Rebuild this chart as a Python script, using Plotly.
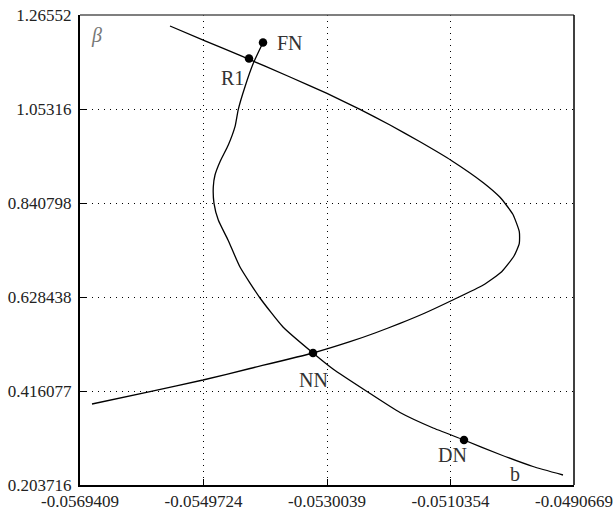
import plotly.graph_objects as go

# Branch 1 (fold-shaped curve)
branch1_x = [-0.0555064, -0.0549485, -0.0543906, -0.0535937, -0.0530039, -0.0524779,
             -0.0519997, -0.0515215, -0.0510163, -0.0505126, -0.0502464, -0.0500440,
             -0.0499388, -0.0499388, -0.0500232, -0.0502193, -0.0505126, -0.0510163,
             -0.0514418, -0.0518403, -0.0522388, -0.0526373, -0.0532270, -0.0542312,
             -0.0549804, -0.0558252, -0.0567496]
branch1_y = [1.24067, 1.20723, 1.17425, 1.12545, 1.08840, 1.05226,
             1.01701, 0.97906, 0.93636, 0.88666, 0.85368, 0.81595,
             0.77596, 0.74975, 0.72106, 0.68559, 0.65555, 0.62053,
             0.59229, 0.56880, 0.54711, 0.52745, 0.50192, 0.46691,
             0.44093, 0.41485, 0.38671]

# Branch 2 (from FN down to b)
branch2_x = [-0.0540240, -0.0541786, -0.0543109, -0.0544177, -0.0544703, -0.0545771,
             -0.0547094, -0.0547891, -0.0548162, -0.0548050, -0.0547365, -0.0545819,
             -0.0543906, -0.0540718, -0.0537052, -0.0532270, -0.0529083, -0.0523663,
             -0.0518403, -0.0513303, -0.0508202, -0.0502464, -0.0497204, -0.0492422]
branch2_y = [1.20339, 1.15640, 1.10354, 1.05248, 1.01317, 0.97183,
             0.93410, 0.90405, 0.87762, 0.84012, 0.80239, 0.75721,
             0.69621, 0.62618, 0.56066, 0.50192, 0.46578, 0.41495,
             0.36750, 0.33362, 0.30538, 0.27262, 0.24551, 0.22631]

# Special points
point_names = ["FN", "R1", "NN", "DN"]
point_x = [-0.0540240, -0.0542472, -0.0532270, -0.0508202]
point_y = [1.20339, 1.16700, 0.50192, 0.30538]

# Ticks
x_ticks = [-0.0569409, -0.0549724, -0.0530039, -0.0510354, -0.0490669]
x_tick_labels = ["-0.0569409", "-0.0549724", "-0.0530039", "-0.0510354", "-0.0490669"]
y_ticks = [0.203716, 0.416077, 0.628438, 0.840798, 1.05316, 1.26552]
y_tick_labels = ["0.203716", "0.416077", "0.628438", "0.840798", "1.05316", "1.26552"]

FONT = "Liberation Serif"

fig = go.Figure()
fig.add_trace(go.Scatter(x=branch1_x, y=branch1_y, mode="lines",
                         line=dict(color="black", width=1.3, shape="spline", smoothing=0.5),
                         showlegend=False))
fig.add_trace(go.Scatter(x=branch2_x, y=branch2_y, mode="lines",
                         line=dict(color="black", width=1.3, shape="spline", smoothing=0.5),
                         showlegend=False))
fig.add_trace(go.Scatter(x=point_x, y=point_y, mode="markers",
                         marker=dict(color="black", size=8.5), showlegend=False))

# labels
label_offsets = {"FN": (27, 0), "R1": (-17, 19), "NN": (0, 27), "DN": (-12, 15)}
for n, x, y in zip(point_names, point_x, point_y):
    dx, dy = label_offsets[n]
    fig.add_annotation(x=x, y=y, text=n, showarrow=False, xshift=dx, yshift=-dy,
                       font=dict(family=FONT, size=20, color="#333"))

fig.add_annotation(x=branch2_x[-1], y=branch2_y[-1], text="b", showarrow=False,
                   xshift=-48, yshift=1, font=dict(family=FONT, size=20, color="#333"))
fig.add_annotation(xref="paper", yref="paper", x=0.019, y=0.985, text="<i>β</i>",
                   showarrow=False, font=dict(family=FONT, size=20, color="#777"))

axis_common = dict(showgrid=True, gridcolor="black", griddash="1px,5px", gridwidth=1,
                   zeroline=False, ticks="inside", ticklen=6, tickcolor="black",
                   showline=True, linecolor="black", linewidth=2, automargin=False,
                   tickfont=dict(family=FONT, size=17, color="#222"))
fig.update_xaxes(range=[x_ticks[0], x_ticks[-1]], tickvals=x_ticks, ticktext=x_tick_labels,
                 **axis_common)
fig.update_yaxes(range=[y_ticks[0], y_ticks[-1]], tickvals=y_ticks, ticktext=y_tick_labels,
                 ticklabelstandoff=3, **axis_common)

# top and right borders
fig.add_shape(type="line", xref="paper", yref="paper", x0=0, x1=1, y0=1, y1=1,
              line=dict(color="#555", width=1.5))
fig.add_shape(type="line", xref="paper", yref="paper", x0=1, x1=1, y0=0, y1=1,
              line=dict(color="black", width=1.5))

fig.update_layout(width=613, height=510, margin=dict(l=80, r=39, t=15, b=25),
                  plot_bgcolor="white", paper_bgcolor="white")
fig.write_html("out.html")
